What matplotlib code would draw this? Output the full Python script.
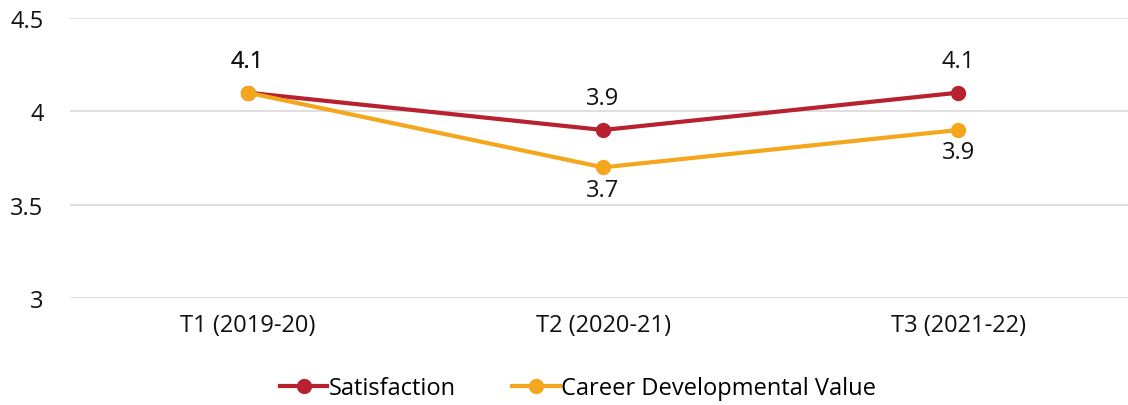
import matplotlib
matplotlib.use("Agg")
import matplotlib.pyplot as plt
from matplotlib.lines import Line2D

# Data
periods = ["T1 (2019-20)", "T2 (2020-21)", "T3 (2021-22)"]
satisfaction = [4.1, 3.9, 4.1]
career_value = [4.1, 3.7, 3.9]
y_ticks = [3, 3.5, 4, 4.5]
y_tick_labels = ["3", "3.5", "4", "4.5"]

RED = "#B8212F"
ORANGE = "#F4A71D"
FS = 17

plt.rcParams["font.family"] = ["Open Sans", "DejaVu Sans"]

fig = plt.figure(figsize=(11.28, 4.06), dpi=100)
ax = fig.add_axes([70 / 1128, 1 - 299 / 406, 1066 / 1128, 280 / 406])

x = list(range(len(periods)))
ax.plot(x, satisfaction, color=RED, lw=3, marker="o", ms=10, zorder=3,
        solid_capstyle="round")
ax.plot(x, career_value, color=ORANGE, lw=3, marker="o", ms=10, zorder=4,
        solid_capstyle="round")

# data labels: satisfaction above, career below (except overlapping first point)
for xi, v in zip(x, satisfaction):
    ax.annotate(f"{v:.1f}", (xi, v), xytext=(0, 23), textcoords="offset points",
                ha="center", va="center", fontsize=FS, color="#111111")
for xi, v in zip(x, career_value):
    dy = 23 if xi == 0 else -16
    ax.annotate(f"{v:.1f}", (xi, v), xytext=(0, dy), textcoords="offset points",
                ha="center", va="center", fontsize=FS, color="#111111")

ax.set_xlim(-0.5, len(periods) - 0.5)
ax.set_ylim(3, 4.5)
ax.set_yticks(y_ticks)
ax.set_yticklabels(y_tick_labels)
ax.set_xticks(x)
ax.set_xticklabels(periods)
ax.tick_params(axis="y", length=0, pad=19, labelsize=FS, colors="#111111")
ax.tick_params(axis="x", length=0, pad=11, labelsize=FS, colors="#111111")
ax.grid(axis="y", color="#D9D9D9", lw=1.2)
ax.set_axisbelow(True)
for s in ax.spines.values():
    s.set_visible(False)

handles = [
    Line2D([], [], color=RED, lw=3, marker="o", ms=10),
    Line2D([], [], color=ORANGE, lw=3, marker="o", ms=10),
]
fig.legend(handles, ["Satisfaction", "Career Developmental Value"],
           loc="center", bbox_to_anchor=(578 / 1128, 1 - 389 / 406), ncol=2,
           frameon=False, fontsize=FS, handlelength=2.0, handletextpad=0.05,
           columnspacing=2.4)

fig.savefig("out.png", dpi=100)
